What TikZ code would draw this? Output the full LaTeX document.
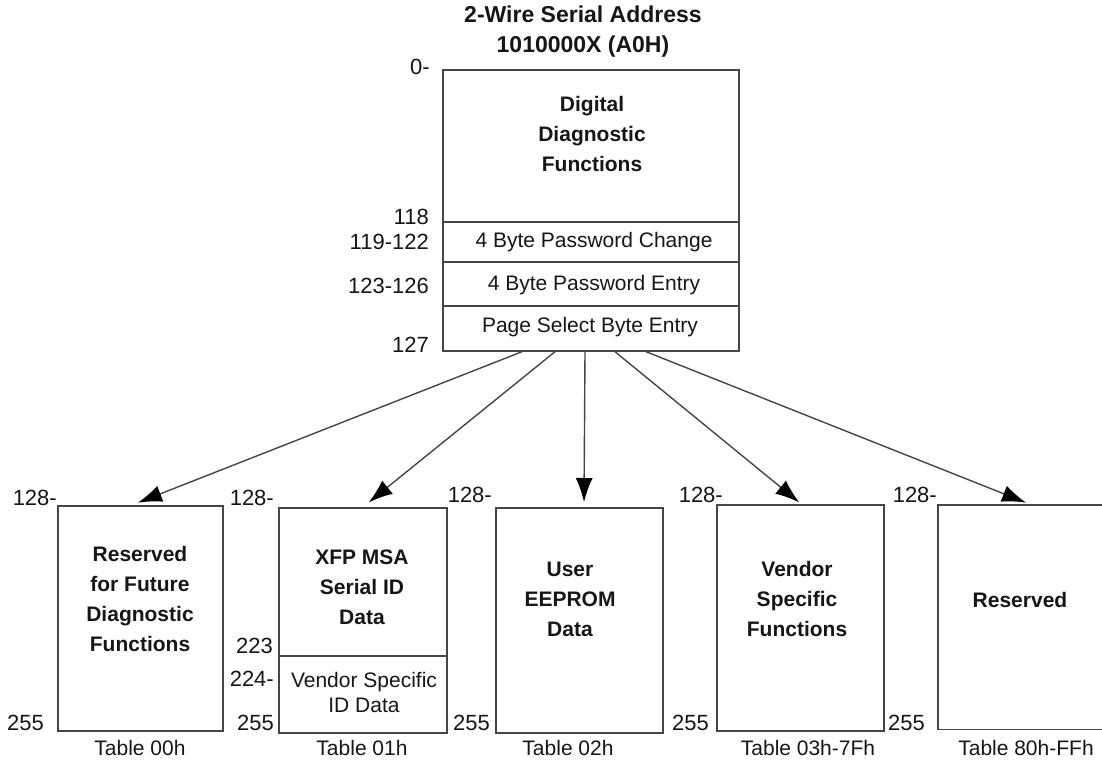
\documentclass[tikz,border=0pt]{standalone}
\usepackage{fontspec}
\setmainfont{Liberation Sans}
\usetikzlibrary{arrows.meta,calc}
\definecolor{linec}{HTML}{454545}
\definecolor{txtc}{HTML}{161616}
\tikzset{
  memarea/.style={draw=linec, line width=1.7pt, inner sep=0pt, anchor=north west},
  numlbl/.style={font=\fontsize{22}{24}\selectfont, text=txtc, inner sep=0pt, anchor=east},
  tbllbl/.style={font=\fontsize{21}{24}\selectfont, text=txtc, inner sep=0pt},
  boldtxt/.style={font=\fontsize{21}{30}\selectfont\bfseries, text=txtc, align=center, inner sep=0pt},
  rowtxt/.style={font=\fontsize{21}{25}\selectfont, text=txtc, align=center, inner sep=0pt},
  titletxt/.style={font=\fontsize{23}{30}\selectfont\bfseries, text=txtc, align=center, inner sep=0pt},
  conn/.style={draw=linec, line width=1.4pt, -{Latex[length=24pt,width=17pt,color=black]}, shorten >=1pt}
}
\begin{document}
\begin{tikzpicture}[x=1pt,y=-1pt]
\useasboundingbox (0,0) rectangle (1102,761);
% title
\node[titletxt] (title) at (583,32) {2-Wire Serial Address\\1010000X (A0H)};
% top memory map
\node[memarea, minimum width=296pt, minimum height=152pt] (dd) at (442,69) {};
\node[memarea, minimum width=296pt, minimum height=40pt] (pwc) at (442,221) {};
\node[memarea, minimum width=296pt, minimum height=44pt] (pwe) at (442,261) {};
\node[memarea, minimum width=296pt, minimum height=45pt] (psb) at (442,305) {};
\node[boldtxt] (ddt) at (592,134) {Digital\\Diagnostic\\Functions};
\node[rowtxt] (pwct) at (594,242) {4 Byte Password Change};
\node[rowtxt] (pwet) at (594,285) {4 Byte Password Entry};
\node[rowtxt] (psbt) at (590,327) {Page Select Byte Entry};
\node[numlbl] (n0) at (430,67) {0-};
\node[numlbl] (n118) at (429,217) {118};
\node[numlbl] (n119) at (429,242) {119-122};
\node[numlbl] (n123) at (429,286) {123-126};
\node[numlbl] (n127) at (429,345) {127};
% bottom tables
\node[memarea, minimum width=165pt, minimum height=225pt] (b1) at (57,505) {};
\node[memarea, minimum width=168pt, minimum height=148pt] (b2) at (278,507) {};
\node[memarea, minimum width=168pt, minimum height=77pt] (b2v) at (278,655) {};
\node[memarea, minimum width=167pt, minimum height=225pt] (b3) at (495,507) {};
\node[memarea, minimum width=167pt, minimum height=226pt] (b4) at (716,504) {};
\node[inner sep=0pt, anchor=north west, minimum width=170pt, minimum height=224pt] (b5) at (938,505) {};
\draw[draw=linec, line width=1.7pt] (b5.north east) -- (b5.north west) -- (b5.south west) -- (b5.south east);
% box texts
\node[boldtxt] (b1t) at (140,599) {Reserved\\for Future\\Diagnostic\\Functions};
\node[boldtxt] (b2t) at (362,587) {XFP MSA\\Serial ID\\Data};
\node[rowtxt] (b2vt) at (364,692) {Vendor Specific\\ID Data};
\node[boldtxt] (b3t) at (570,599) {User\\EEPROM\\Data};
\node[boldtxt] (b4t) at (797,599) {Vendor\\Specific\\Functions};
\node[boldtxt] (b5t) at (1020,600) {Reserved};
% range labels
\node[numlbl] (l1a) at (57,498) {128-};
\node[numlbl] (l1b) at (44,723) {255};
\node[numlbl] (l2a) at (274,498) {128-};
\node[numlbl] (l2b) at (273,646) {223};
\node[numlbl] (l2c) at (274,679) {224-};
\node[numlbl] (l2d) at (274,723) {255};
\node[numlbl] (l3a) at (492,495) {128-};
\node[numlbl] (l3b) at (490,723) {255};
\node[numlbl] (l4a) at (723,495) {128-};
\node[numlbl] (l4b) at (709,723) {255};
\node[numlbl] (l5a) at (937,495) {128-};
\node[numlbl] (l5b) at (925,723) {255};
% table labels
\node[tbllbl] (t1) at (140,748) {Table 00h};
\node[tbllbl] (t2) at (362,748) {Table 01h};
\node[tbllbl] (t3) at (568,748) {Table 02h};
\node[tbllbl] (t4) at (808,748) {Table 03h-7Fh};
\node[tbllbl] (t5) at (1026,748) {Table 80h-FFh};
% connectors
\draw[conn] ($(psb.south west)+(80,0)$) -- ($(b1.north west)+(80,-2)$);
\draw[conn] ($(psb.south west)+(113,0)$) -- ($(b2.north west)+(90,-4)$);
\draw[conn] ($(psb.south west)+(143,0)$) -- ($(b3.north west)+(89,-4)$);
\draw[conn] ($(psb.south west)+(173,0)$) -- ($(b4.north west)+(84,-1)$);
\draw[conn] ($(psb.south west)+(204,0)$) -- ($(b5.north west)+(89,-2)$);
\end{tikzpicture}
\end{document}
